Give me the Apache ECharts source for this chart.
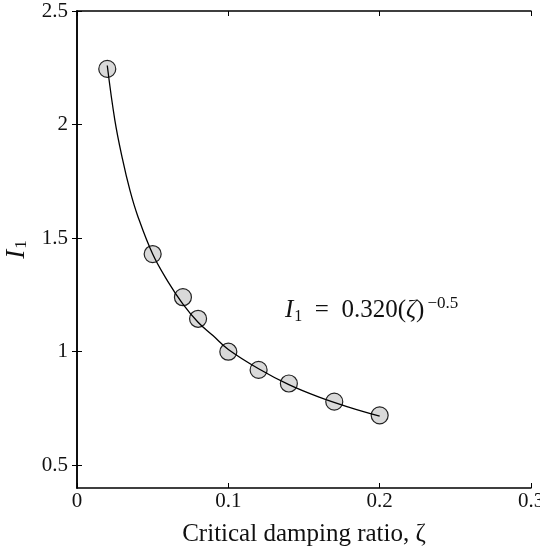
<!DOCTYPE html>
<html><head><meta charset="utf-8">
<script src="https://cdn.jsdelivr.net/npm/echarts@6/dist/echarts.min.js"></script>
<style>html,body{margin:0;padding:0;background:#fff}#c{width:540px;height:550px}</style>
</head><body><div id="c"></div>
<script>
const zeta = [0.02, 0.05, 0.07, 0.08, 0.10, 0.12, 0.14, 0.17, 0.20];
const I1 = [2.245, 1.43, 1.24, 1.145, 1.0, 0.92, 0.86, 0.78, 0.72];
const fitZeta = [0.02, 0.025, 0.03, 0.035, 0.04, 0.05, 0.06, 0.07, 0.08, 0.09, 0.10, 0.12, 0.14, 0.16, 0.18, 0.20];
const fitI1 = [2.26, 2.02, 1.85, 1.71, 1.60, 1.43, 1.31, 1.21, 1.13, 1.07, 1.01, 0.925, 0.855, 0.80, 0.755, 0.716];
const yTicks = [0.5, 1, 1.5, 2, 2.5];

const FONT = 'Liberation Serif';
const chart = echarts.init(document.getElementById('c'));
const axisLine = {show: true, lineStyle: {color: '#000', width: 1.5}};
const tick = {show: true, inside: true, length: 5, lineStyle: {color: '#000', width: 1}};
chart.setOption({
  animation: false,
  grid: {left: 77, right: 9, top: 11, bottom: 62, outerBoundsMode: 'none', containLabel: false},
  xAxis: [
    {type: 'value', min: 0, max: 0.3, interval: 0.1, position: 'bottom',
     axisLine, axisTick: tick, splitLine: {show: false},
     axisLabel: {color: '#111', fontFamily: FONT, fontSize: 21, margin: 3},
     name: 'Critical damping ratio, ζ', nameLocation: 'middle', nameGap: 34,
     nameTextStyle: {color: '#111', fontFamily: FONT, fontSize: 25}},
    {type: 'value', min: 0, max: 0.3, interval: 0.1, position: 'top',
     axisLine, axisTick: tick, axisLabel: {show: false}, splitLine: {show: false}}
  ],
  yAxis: [
    {type: 'value', min: 0.4, max: 2.5, position: 'left',
     axisLine, splitLine: {show: false},
     axisTick: Object.assign({customValues: yTicks}, tick),
     axisLabel: {customValues: yTicks, color: '#111', fontFamily: FONT, fontSize: 21, margin: 9},
     name: '{i|I}{s|1}', nameLocation: 'middle', nameGap: 47, nameRotate: 90,
     nameTextStyle: {rich: {
       i: {fontFamily: FONT, fontStyle: 'italic', fontSize: 27, color: '#111'},
       s: {fontFamily: FONT, fontSize: 17, color: '#111', padding: [10, 0, 0, 1]}
     }}},
    {type: 'value', min: 0.4, max: 2.5, position: 'right',
     axisLine, splitLine: {show: false},
     axisTick: Object.assign({customValues: yTicks}, tick),
     axisLabel: {show: false}}
  ],
  graphic: [{
    type: 'text', left: 285, top: 295, z: 10,
    style: {
      text: '{i|I}{s|1}{t|  =  0.320(}{z|ζ}{t|)}{p|−0.5}',
      rich: {
        i: {fontFamily: FONT, fontStyle: 'italic', fontSize: 25, fill: '#111'},
        s: {fontFamily: FONT, fontSize: 16, fill: '#111', padding: [12, 0, 0, 1]},
        t: {fontFamily: FONT, fontSize: 25, fill: '#111'},
        z: {fontFamily: FONT, fontStyle: 'italic', fontSize: 25, fill: '#111'},
        p: {fontFamily: FONT, fontSize: 17, fill: '#111', padding: [0, 0, 14, 3]}
      }
    }
  }],
  series: [
    {type: 'scatter', data: zeta.map((z, i) => [z, I1[i]]), symbol: 'circle', symbolSize: 17,
     itemStyle: {color: '#d9d9d9', borderColor: '#222', borderWidth: 1.2, opacity: 1}, z: 2},
    {type: 'line', data: fitZeta.map((z, i) => [z, fitI1[i]]), smooth: 0.4, showSymbol: false,
     symbol: 'none', lineStyle: {color: '#000', width: 1.3}, z: 3}
  ]
});
</script></body></html>
